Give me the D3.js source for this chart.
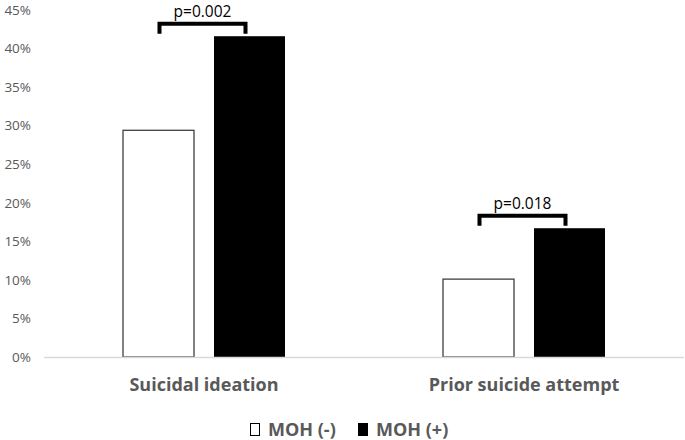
<!DOCTYPE html>
<html><head><meta charset="utf-8">
<script src="https://cdn.jsdelivr.net/npm/d3@7"></script>
<style>body{margin:0;background:#fff}svg{display:block}text{font-family:"Open Sans",sans-serif}</style>
</head><body><svg id="c" width="685" height="440"></svg>
<script>
const categories = ["Suicidal ideation", "Prior suicide attempt"];
const seriesNames = ["MOH (-)", "MOH (+)"];
const mohNeg = [29.4, 10.1];
const mohPos = [41.6, 16.7];
const pValues = ["p=0.002", "p=0.018"];
const yTicks = [0, 5, 10, 15, 20, 25, 30, 35, 40, 45];

const svg = d3.select("#c");
const m = {l: 44, r: 1, t: 10, b: 83};
const W = 685, H = 440;
const x = d3.scaleBand().domain(categories).range([m.l, W - m.r]).paddingInner(0).paddingOuter(0);
const y = d3.scaleLinear().domain([0, 45]).range([H - m.b, m.t]);
const barW = 71, gap = 20;
const colors = ["#ffffff", "#000000"];
const FONT = "'Open Sans', sans-serif";

// y axis labels
const ya = svg.append("g").attr("transform", `translate(${m.l},0)`)
  .call(d3.axisLeft(y).tickValues(yTicks).tickFormat(d => d + "%").tickSize(0).tickPadding(13));
ya.select(".domain").remove();
ya.selectAll("text").attr("fill", "#595959").attr("font-size", 13.5).style("font-family", FONT);

// bars
const data = categories.map((c, i) => ({c, v: [mohNeg[i], mohPos[i]], p: pValues[i]}));
const g = svg.append("g");
data.forEach(d => {
  const cx = x(d.c) + x.bandwidth() / 2;
  d.v.forEach((v, j) => {
    const bx = j === 0 ? cx - gap / 2 - barW : cx + gap / 2;
    g.append("rect").attr("x", bx).attr("y", y(v)).attr("width", barW).attr("height", y(0) - y(v))
      .attr("fill", colors[j]).attr("stroke", "#404040").attr("stroke-width", j === 0 ? 1.3 : 0);
  });
  // bracket
  const xl = cx - gap / 2 - barW / 2 + 1, xr = cx + gap / 2 + barW / 2 - 4;
  const top = y(Math.max(...d.v)) - 12.5;
  svg.append("path").attr("d", `M${xl},${top + 10}V${top}H${xr}V${top + 10}`)
    .attr("fill", "none").attr("stroke", "#000").attr("stroke-width", 4);
  svg.append("text").attr("x", (xl + xr) / 2).attr("y", top - 7).attr("text-anchor", "middle")
    .attr("font-size", 15.5).attr("fill", "#000").style("font-family", FONT).text(d.p);
});

// baseline
svg.append("line").attr("x1", m.l).attr("x2", W - m.r).attr("y1", y(0) + 0.5).attr("y2", y(0) + 0.5)
  .attr("stroke", "#d9d9d9").attr("stroke-width", 1.5);

// category labels
const xa = svg.append("g").attr("transform", `translate(0,${y(0)})`)
  .call(d3.axisBottom(x).tickSize(0).tickPadding(21));
xa.select(".domain").remove();
xa.selectAll("text").attr("fill", "#595959").attr("font-size", 18).attr("font-weight", "bold")
  .style("font-family", FONT);

// legend
const leg = svg.append("g").attr("transform", "translate(250,436)");
const legX = [0, 108];
seriesNames.forEach((s, i) => {
  leg.append("rect").attr("x", legX[i] + 0.5).attr("y", -12.5).attr("width", 9).attr("height", 12)
    .attr("fill", colors[i]).attr("stroke", "#000").attr("stroke-width", 1);
  leg.append("text").attr("x", legX[i] + 18).attr("y", 0).attr("font-size", 18).attr("font-weight", "bold")
    .attr("fill", "#595959").style("font-family", FONT).text(s);
});
</script></body></html>
